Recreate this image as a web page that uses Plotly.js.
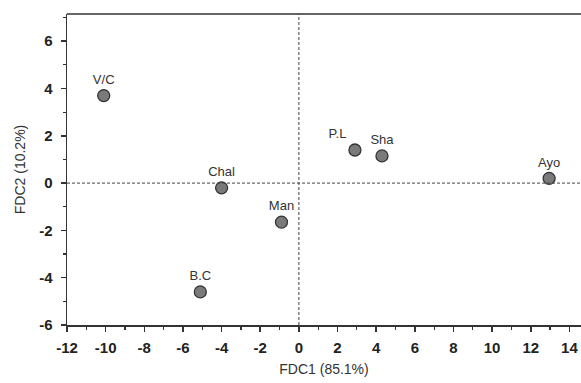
<!DOCTYPE html>
<html><head><meta charset="utf-8">
<script src="https://cdn.plot.ly/plotly-3.0.1.min.js"></script>
<style>html,body{margin:0;padding:0;background:#fff}#c{width:581px;height:383px}</style>
</head><body><div id="c"></div>
<script>
const sites = ["V/C","Chal","Man","B.C","P.L","Sha","Ayo"];
const fdc1 = [-10.1, -4.0, -0.9, -5.1, 2.9, 4.3, 12.95];
const fdc2 = [3.7, -0.2, -1.65, -4.6, 1.4, 1.15, 0.2];
const labelPos = ["top center","top center","top center","top center","top left","top center","top center"];
const xTicks = [-12,-10,-8,-6,-4,-2,0,2,4,6,8,10,12,14];
const yTicks = [-6,-4,-2,0,2,4,6];

const font = "Liberation Sans, Arial, sans-serif";
const trace = {
  x: fdc1, y: fdc2, text: sites, mode: "markers+text", type: "scatter",
  textposition: labelPos,
  textfont: {family: font, size: 13, color: "#333"},
  marker: {size: 12, color: "#7a7a7a", line: {color: "#333", width: 1.3}},
  cliponaxis: false, hoverinfo: "none"
};
const layout = {
  width: 581, height: 383,
  margin: {l: 67, r: 0, t: 14, b: 58},
  paper_bgcolor: "#fff", plot_bgcolor: "#fff",
  showlegend: false,
  xaxis: {
    range: [-12, 14.6], tickvals: xTicks, ticktext: xTicks.map(String),
    showgrid: false, zeroline: false,
    showline: true, linecolor: "#333", linewidth: 1.5, mirror: false,
    ticks: "outside", ticklen: 5, tickwidth: 1.5, tickcolor: "#333",
    ticklabelstandoff: 3,
    minor: {dtick: 1, tick0: 0, ticks: "outside", ticklen: 3, tickwidth: 1.2, tickcolor: "#333", showgrid: false},
    tickfont: {family: font, size: 15, color: "#222", weight: 700},
    title: {text: "FDC1 (85.1%)", font: {family: font, size: 14, color: "#333"}, standoff: 9}
  },
  yaxis: {
    range: [-6, 7.15], tickvals: yTicks, ticktext: yTicks.map(String),
    showgrid: false, zeroline: false,
    showline: true, linecolor: "#333", linewidth: 1.5,
    ticks: "outside", ticklen: 5, tickwidth: 1.5, tickcolor: "#333",
    ticklabelstandoff: 5,
    minor: {dtick: 1, tick0: 0, ticks: "outside", ticklen: 3, tickwidth: 1.2, tickcolor: "#333", showgrid: false},
    tickfont: {family: font, size: 15, color: "#222", weight: 700},
    title: {text: "FDC2 (10.2%)", font: {family: font, size: 14, color: "#333"}, standoff: 10}
  },
  shapes: [
    {type: "line", xref: "paper", yref: "paper", x0: 0, x1: 1, y0: 1, y1: 1, line: {color: "#333", width: 1.5}},
    {type: "line", xref: "x", yref: "paper", x0: 0, x1: 0, y0: 0, y1: 1, line: {color: "#444", width: 1, dash: "3px,2px"}},
    {type: "line", xref: "paper", yref: "y", x0: 0, x1: 1, y0: 0, y1: 0, line: {color: "#444", width: 1, dash: "3px,2px"}}
  ]
};
Plotly.newPlot("c", [trace], layout, {staticPlot: true, displayModeBar: false});
</script></body></html>
